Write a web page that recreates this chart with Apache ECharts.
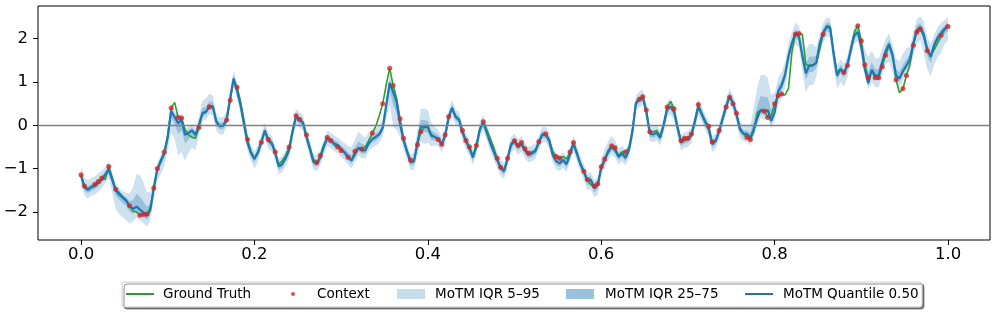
<!DOCTYPE html>
<html><head><meta charset="utf-8">
<script src="https://cdn.jsdelivr.net/npm/echarts@6/dist/echarts.min.js"></script>
<style>html,body{margin:0;padding:0;background:#fff}#c{width:997px;height:313px}</style>
</head><body><div id="c"></div>
<script>
// sampling times
const time = [
0,0.004,0.008,0.012,0.016,0.02,0.024,0.028,0.032,0.036,
0.04,0.044,0.048,0.052,0.056,0.06,0.064,0.068,0.072,0.076,
0.08,0.084,0.088,0.092,0.096,0.1,0.104,0.108,0.112,0.116,
0.12,0.124,0.128,0.132,0.136,0.14,0.144,0.148,0.152,0.156,
0.16,0.164,0.168,0.172,0.176,0.18,0.184,0.188,0.192,0.196,
0.2,0.204,0.208,0.212,0.216,0.22,0.224,0.228,0.232,0.236,
0.24,0.244,0.248,0.252,0.256,0.26,0.264,0.268,0.272,0.276,
0.28,0.284,0.288,0.292,0.296,0.3,0.304,0.308,0.312,0.316,
0.32,0.324,0.328,0.332,0.336,0.34,0.344,0.348,0.352,0.356,
0.36,0.364,0.368,0.372,0.376,0.38,0.384,0.388,0.392,0.396,
0.4,0.404,0.408,0.412,0.416,0.42,0.424,0.428,0.432,0.436,
0.44,0.444,0.448,0.452,0.456,0.46,0.464,0.468,0.472,0.476,
0.48,0.484,0.488,0.492,0.496,0.5,0.504,0.508,0.512,0.516,
0.52,0.524,0.528,0.532,0.536,0.54,0.544,0.548,0.552,0.556,
0.56,0.564,0.568,0.572,0.576,0.58,0.584,0.588,0.592,0.596,
0.6,0.604,0.608,0.612,0.616,0.62,0.624,0.628,0.632,0.636,
0.64,0.644,0.648,0.652,0.656,0.66,0.664,0.668,0.672,0.676,
0.68,0.684,0.688,0.692,0.696,0.7,0.704,0.708,0.712,0.716,
0.72,0.724,0.728,0.732,0.736,0.74,0.744,0.748,0.752,0.756,
0.76,0.764,0.768,0.772,0.776,0.78,0.784,0.788,0.792,0.796,
0.8,0.804,0.808,0.812,0.816,0.82,0.824,0.828,0.832,0.836,
0.84,0.844,0.848,0.852,0.856,0.86,0.864,0.868,0.872,0.876,
0.88,0.884,0.888,0.892,0.896,0.9,0.904,0.908,0.912,0.916,
0.92,0.924,0.928,0.932,0.936,0.94,0.944,0.948,0.952,0.956,
0.96,0.964,0.968,0.972,0.976,0.98,0.984,0.988,0.992,0.996,
1.0];

// MoTM quantile 0.50
const median = [
-1.17,-1.43,-1.49,-1.43,-1.40,-1.33,-1.25,-1.14,-1.02,-1.26,
-1.50,-1.60,-1.67,-1.74,-1.87,-1.93,-1.88,-1.95,-2.01,-2.09,
-1.95,-1.45,-1.02,-0.83,-0.66,-0.28,0.33,0.19,0.05,0.13,
-0.22,-0.18,-0.12,-0.22,0.00,0.28,0.31,0.43,0.44,0.08,
-0.02,-0.01,0.14,0.62,1.08,0.80,0.46,0.02,-0.40,-0.64,
-0.78,-0.63,-0.39,-0.12,-0.36,-0.42,-0.64,-0.95,-0.90,-0.76,
-0.58,-0.15,0.20,0.12,0.06,-0.27,-0.55,-0.85,-0.88,-0.75,
-0.50,-0.30,-0.35,-0.42,-0.46,-0.55,-0.63,-0.73,-0.81,-0.67,
-0.52,-0.58,-0.58,-0.41,-0.32,-0.27,-0.21,-0.06,0.45,0.98,
0.77,0.54,0.03,-0.35,-0.61,-0.85,-0.83,-0.41,-0.03,-0.03,
-0.05,-0.24,-0.27,-0.31,-0.44,-0.25,0.18,0.40,0.19,0.13,
-0.17,-0.37,-0.53,-0.74,-0.49,-0.10,0.06,-0.17,-0.41,-0.61,
-0.80,-0.99,-1.06,-0.78,-0.45,-0.37,-0.50,-0.43,-0.58,-0.68,
-0.65,-0.60,-0.40,-0.22,-0.22,-0.36,-0.68,-0.83,-0.88,-0.80,
-0.90,-0.67,-0.43,-0.66,-0.90,-1.08,-1.28,-1.26,-1.45,-1.38,
-0.99,-0.80,-0.62,-0.50,-0.57,-0.73,-0.65,-0.75,-0.57,-0.15,
0.51,0.60,0.64,0.32,-0.19,-0.21,-0.17,-0.29,0.00,0.37,
0.43,0.31,-0.06,-0.40,-0.34,-0.32,-0.23,0.08,0.43,0.25,
0.07,-0.09,-0.44,-0.36,-0.14,0.15,0.43,0.67,0.52,0.25,
-0.10,-0.19,-0.20,-0.29,-0.09,0.17,0.36,0.31,0.35,0.10,
0.30,0.78,0.92,1.16,1.60,1.90,2.12,2.05,1.60,1.20,
1.38,1.38,1.45,1.88,2.14,2.27,2.25,1.65,1.15,1.30,
1.20,1.40,1.75,2.08,2.15,1.80,1.30,0.97,1.28,1.15,
1.15,1.45,1.70,1.88,1.62,1.15,1.08,1.25,1.38,1.52,
1.90,2.20,2.27,2.10,1.75,1.58,1.85,2.02,2.12,2.23,
2.30];

// Ground truth
const truth = [
-1.14,-1.40,-1.47,-1.42,-1.36,-1.30,-1.22,-1.25,-0.95,-1.20,
-1.48,-1.55,-1.65,-1.72,-1.86,-1.98,-2.00,-2.08,-2.06,-2.05,
-1.90,-1.45,-1.00,-0.80,-0.62,-0.22,0.40,0.53,0.18,0.17,
-0.10,-0.22,-0.28,-0.30,-0.05,0.26,0.31,0.43,0.44,0.10,
-0.02,-0.02,0.12,0.58,1.05,0.88,0.55,0.12,-0.32,-0.60,
-0.76,-0.63,-0.39,-0.13,-0.32,-0.40,-0.62,-0.90,-0.82,-0.70,
-0.50,-0.12,0.22,0.14,0.06,-0.22,-0.50,-0.78,-0.86,-0.70,
-0.45,-0.28,-0.35,-0.45,-0.50,-0.58,-0.62,-0.74,-0.82,-0.60,
-0.52,-0.55,-0.50,-0.35,-0.18,-0.02,0.22,0.50,0.93,1.32,
0.92,0.62,0.15,-0.30,-0.58,-0.80,-0.85,-0.45,-0.15,-0.05,
-0.02,-0.22,-0.27,-0.33,-0.44,-0.22,0.20,0.40,0.22,0.14,
-0.12,-0.35,-0.50,-0.70,-0.47,-0.08,0.08,-0.10,-0.30,-0.52,
-0.76,-0.97,-1.02,-0.76,-0.42,-0.36,-0.46,-0.40,-0.54,-0.64,
-0.62,-0.58,-0.38,-0.20,-0.20,-0.32,-0.60,-0.72,-0.76,-0.72,
-0.78,-0.62,-0.40,-0.62,-0.88,-1.06,-1.25,-1.38,-1.40,-1.35,
-0.96,-0.78,-0.58,-0.48,-0.52,-0.70,-0.62,-0.62,-0.52,-0.10,
0.53,0.60,0.66,0.35,-0.15,-0.15,-0.12,-0.25,0.02,0.42,
0.55,0.38,-0.02,-0.36,-0.30,-0.30,-0.20,0.12,0.48,0.28,
0.10,-0.02,-0.38,-0.36,-0.12,0.14,0.42,0.65,0.50,0.28,
-0.05,-0.20,-0.28,-0.33,-0.15,0.30,0.33,0.33,0.18,0.22,
0.50,0.68,0.72,0.70,0.85,1.70,2.10,2.12,2.10,1.40,
1.38,1.40,1.42,1.75,2.10,2.30,2.28,1.70,1.20,1.30,
1.22,1.38,1.80,2.15,2.30,1.95,1.40,1.10,1.25,1.10,
1.10,1.35,1.62,1.85,1.65,1.05,0.75,0.85,1.15,1.40,
1.85,2.15,2.22,2.05,1.72,1.62,1.75,1.90,2.08,2.20,
2.28];

// indices of the observed context points
const contextIdx = [0,1,4,5,6,8,10,14,17,18,19,21,22,24,26,28,29,34,37,42,43,45,48,52,54,56,60,62,63,65,68,69,71,72,74,75,77,79,81,84,87,89,90,92,93,95,97,98,103,104,105,106,110,111,112,114,116,120,121,123,125,126,127,128,129,132,134,137,138,141,142,145,146,148,149,150,151,153,154,157,161,162,163,164,169,171,173,174,175,176,178,181,182,184,186,187,188,189,192,193,197,198,200,201,202,206,207,214,220,221,224,225,226,227,229,230,231,232,235,237,238,240,241,242,244,248,250];

// band extents relative to the median
const above95 = [
0.22,0.22,0.22,0.22,0.22,0.22,0.2,0.18,0.18,0.15,
0.15,0.15,0.15,0.18,0.3,0.5,0.75,0.8,0.7,0.55,
0.4,0.2,0.15,0.15,0.15,0.15,0.15,0.15,0.15,0.15,
0.15,0.15,0.15,0.15,0.2,0.3,0.3,0.3,0.25,0.2,
0.2,0.2,0.18,0.18,0.18,0.18,0.18,0.18,0.18,0.18,
0.18,0.18,0.18,0.18,0.18,0.18,0.18,0.18,0.18,0.18,
0.18,0.18,0.18,0.18,0.18,0.18,0.18,0.18,0.18,0.18,
0.18,0.18,0.18,0.18,0.18,0.2,0.22,0.25,0.3,0.35,
0.38,0.35,0.3,0.25,0.22,0.2,0.2,0.2,0.2,0.2,
0.15,0.15,0.18,0.18,0.18,0.18,0.2,0.3,0.4,0.42,
0.4,0.3,0.25,0.2,0.18,0.18,0.18,0.18,0.18,0.18,
0.18,0.18,0.18,0.18,0.18,0.18,0.18,0.18,0.18,0.18,
0.18,0.18,0.18,0.18,0.18,0.18,0.18,0.18,0.18,0.18,
0.18,0.18,0.18,0.18,0.18,0.18,0.18,0.18,0.18,0.18,
0.18,0.18,0.18,0.18,0.18,0.18,0.18,0.18,0.18,0.18,
0.22,0.25,0.25,0.25,0.22,0.18,0.18,0.18,0.18,0.18,
0.18,0.18,0.18,0.18,0.18,0.18,0.18,0.18,0.18,0.18,
0.18,0.18,0.18,0.18,0.18,0.18,0.18,0.18,0.18,0.18,
0.18,0.18,0.18,0.18,0.18,0.18,0.18,0.18,0.18,0.18,
0.18,0.18,0.2,0.3,0.5,0.7,0.8,0.85,0.75,0.6,
0.45,0.3,0.3,0.3,0.3,0.25,0.25,0.25,0.35,0.55,
0.5,0.5,0.35,0.22,0.22,0.22,0.22,0.22,0.22,0.22,
0.22,0.22,0.2,0.2,0.2,0.3,0.45,0.6,0.45,0.4,
0.4,0.3,0.3,0.25,0.25,0.4,0.4,0.4,0.4,0.3,
0.25,0.25,0.25,0.3,0.3,0.3,0.25,0.25,0.25,0.2,
0.2];
const below95 = [
0.2,0.2,0.2,0.2,0.2,0.2,0.2,0.2,0.2,0.3,
0.45,0.45,0.45,0.45,0.4,0.3,0.25,0.25,0.25,0.25,
0.25,0.25,0.25,0.3,0.3,0.3,0.5,0.5,0.75,0.75,
0.6,0.45,0.4,0.35,0.25,0.18,0.18,0.18,0.2,0.2,
0.2,0.2,0.18,0.18,0.18,0.18,0.18,0.18,0.18,0.18,
0.22,0.22,0.18,0.18,0.18,0.18,0.18,0.18,0.18,0.18,
0.18,0.18,0.18,0.18,0.18,0.18,0.18,0.18,0.18,0.18,
0.18,0.18,0.18,0.18,0.18,0.18,0.18,0.18,0.18,0.18,
0.18,0.18,0.18,0.18,0.2,0.2,0.2,0.2,0.3,0.5,
0.8,0.65,0.3,0.2,0.18,0.18,0.2,0.3,0.35,0.4,
0.35,0.25,0.2,0.18,0.18,0.18,0.18,0.18,0.18,0.18,
0.18,0.18,0.18,0.18,0.18,0.18,0.18,0.18,0.18,0.18,
0.18,0.18,0.18,0.18,0.18,0.18,0.18,0.18,0.18,0.18,
0.18,0.18,0.18,0.18,0.18,0.18,0.18,0.18,0.18,0.18,
0.18,0.18,0.18,0.18,0.18,0.18,0.22,0.22,0.22,0.22,
0.18,0.18,0.18,0.18,0.18,0.18,0.18,0.18,0.18,0.18,
0.18,0.18,0.18,0.18,0.18,0.18,0.18,0.18,0.18,0.18,
0.18,0.18,0.18,0.18,0.18,0.18,0.18,0.18,0.18,0.18,
0.18,0.18,0.18,0.18,0.18,0.18,0.18,0.18,0.18,0.18,
0.18,0.18,0.18,0.18,0.18,0.18,0.18,0.18,0.18,0.18,
0.2,0.3,0.3,0.3,0.3,0.25,0.25,0.25,0.35,0.45,
0.45,0.45,0.35,0.22,0.22,0.22,0.22,0.3,0.3,0.3,
0.3,0.3,0.2,0.2,0.2,0.2,0.15,0.15,0.27,0.27,
0.27,0.3,0.3,0.4,0.4,0.2,0.2,0.2,0.2,0.25,
0.3,0.3,0.3,0.45,0.45,0.45,0.45,0.45,0.45,0.35,
0.35];
const above50 = [
0.08,0.08,0.08,0.08,0.08,0.08,0.08,0.08,0.08,0.08,
0.07,0.07,0.07,0.08,0.12,0.2,0.3,0.3,0.25,0.2,
0.15,0.08,0.07,0.07,0.07,0.07,0.07,0.07,0.07,0.07,
0.07,0.07,0.07,0.07,0.08,0.12,0.12,0.12,0.1,0.08,
0.08,0.08,0.08,0.08,0.08,0.08,0.08,0.08,0.08,0.08,
0.08,0.08,0.08,0.08,0.08,0.08,0.08,0.08,0.08,0.08,
0.08,0.08,0.08,0.08,0.08,0.08,0.08,0.08,0.08,0.08,
0.08,0.08,0.08,0.08,0.08,0.08,0.1,0.1,0.12,0.15,
0.15,0.15,0.12,0.1,0.1,0.08,0.08,0.08,0.08,0.08,
0.07,0.07,0.08,0.08,0.08,0.08,0.08,0.12,0.15,0.15,
0.15,0.12,0.1,0.08,0.08,0.08,0.08,0.08,0.08,0.08,
0.08,0.08,0.08,0.08,0.08,0.08,0.08,0.08,0.08,0.08,
0.08,0.08,0.08,0.08,0.08,0.08,0.08,0.08,0.08,0.08,
0.08,0.08,0.08,0.08,0.08,0.08,0.08,0.08,0.08,0.08,
0.08,0.08,0.08,0.08,0.08,0.08,0.08,0.08,0.08,0.08,
0.1,0.1,0.1,0.1,0.1,0.08,0.08,0.08,0.08,0.08,
0.08,0.08,0.08,0.08,0.08,0.08,0.08,0.08,0.08,0.08,
0.08,0.08,0.08,0.08,0.08,0.08,0.08,0.08,0.08,0.08,
0.08,0.08,0.08,0.08,0.08,0.08,0.08,0.08,0.08,0.08,
0.08,0.08,0.08,0.12,0.2,0.28,0.32,0.35,0.3,0.25,
0.18,0.12,0.12,0.12,0.12,0.1,0.1,0.1,0.15,0.22,
0.2,0.2,0.15,0.1,0.1,0.1,0.1,0.1,0.1,0.1,
0.1,0.1,0.08,0.08,0.08,0.12,0.18,0.25,0.18,0.15,
0.15,0.12,0.12,0.1,0.1,0.15,0.15,0.15,0.15,0.12,
0.1,0.1,0.1,0.12,0.12,0.12,0.1,0.1,0.1,0.08,
0.08];
const below50 = [
0.08,0.08,0.08,0.08,0.08,0.08,0.08,0.08,0.08,0.08,
0.12,0.12,0.12,0.12,0.12,0.12,0.1,0.1,0.1,0.1,
0.1,0.08,0.08,0.1,0.1,0.1,0.15,0.15,0.25,0.25,
0.2,0.15,0.12,0.12,0.1,0.08,0.08,0.08,0.08,0.08,
0.08,0.08,0.08,0.08,0.08,0.08,0.08,0.08,0.08,0.08,
0.08,0.08,0.08,0.08,0.08,0.08,0.08,0.08,0.08,0.08,
0.08,0.08,0.08,0.08,0.08,0.08,0.08,0.08,0.08,0.08,
0.08,0.08,0.08,0.08,0.08,0.08,0.08,0.08,0.08,0.08,
0.08,0.08,0.08,0.08,0.08,0.08,0.08,0.08,0.12,0.18,
0.3,0.25,0.12,0.08,0.08,0.08,0.08,0.12,0.12,0.12,
0.12,0.1,0.08,0.08,0.08,0.08,0.08,0.08,0.08,0.08,
0.08,0.08,0.08,0.08,0.08,0.08,0.08,0.08,0.08,0.08,
0.08,0.08,0.08,0.08,0.08,0.08,0.08,0.08,0.08,0.08,
0.08,0.08,0.08,0.08,0.08,0.08,0.08,0.08,0.08,0.08,
0.08,0.08,0.08,0.08,0.08,0.08,0.1,0.1,0.1,0.1,
0.08,0.08,0.08,0.08,0.08,0.08,0.08,0.08,0.08,0.08,
0.08,0.08,0.08,0.08,0.08,0.08,0.08,0.08,0.08,0.08,
0.08,0.08,0.08,0.08,0.08,0.08,0.08,0.08,0.08,0.08,
0.08,0.08,0.08,0.08,0.08,0.08,0.08,0.08,0.08,0.08,
0.08,0.08,0.08,0.08,0.08,0.08,0.08,0.08,0.08,0.08,
0.08,0.12,0.12,0.12,0.12,0.1,0.1,0.1,0.12,0.15,
0.15,0.15,0.12,0.1,0.1,0.1,0.1,0.1,0.1,0.1,
0.1,0.1,0.08,0.08,0.08,0.08,0.07,0.07,0.1,0.1,
0.1,0.1,0.1,0.15,0.15,0.08,0.08,0.08,0.08,0.1,
0.1,0.1,0.1,0.15,0.15,0.15,0.15,0.15,0.15,0.12,
0.12];

const xTicks = [0, 0.2, 0.4, 0.6, 0.8, 1.0];
const yTicks = [-2, -1, 0, 1, 2];

const q05 = median.map((m, i) => m - below95[i]);
const q95 = median.map((m, i) => m + above95[i]);
const q25 = median.map((m, i) => m - below50[i]);
const q75 = median.map((m, i) => m + above50[i]);

const BLUE = '#1f77b4', GREEN = '#2ca02c', RED = '#d62728';
const FONT = 'DejaVu Sans';

function band(name, lower, upper, color, z) {
  return {
    type: 'custom', name, z, silent: true,
    itemStyle: { color },
    data: [[time[0], median[0]]],
    renderItem: (params, api) => {
      const pts = [];
      for (let i = 0; i < time.length; i++) pts.push(api.coord([time[i], upper[i]]));
      for (let i = time.length - 1; i >= 0; i--) pts.push(api.coord([time[i], lower[i]]));
      return { type: 'polygon', shape: { points: pts }, style: { fill: color } };
    }
  };
}

function legendItem(left, name, icon, w, h, color, pad) {
  return {
    left, top: 287, padding: 0, itemWidth: w, itemHeight: h, icon,
    selectedMode: false,
    data: [{ name, itemStyle: { color, borderWidth: 0 } }],
    textStyle: { fontFamily: FONT, fontSize: 13.5, color: '#000', padding: [0, 0, 0, pad] }
  };
}

const chart = echarts.init(document.getElementById('c'), null, { renderer: 'canvas' });
chart.setOption({
  animation: false,
  backgroundColor: '#fff',
  grid: { left: 38, right: 7, top: 6, bottom: 73, show: true, borderColor: '#000', borderWidth: 1, backgroundColor: 'transparent', outerBoundsMode: 'none' },
  xAxis: {
    type: 'value', min: -0.0496, max: 1.0484, position: 'bottom',
    splitLine: { show: false }, axisLine: { show: false, onZero: false },
    axisTick: { show: true, length: 5, lineStyle: { color: '#000', width: 1 }, customValues: xTicks },
    axisLabel: { customValues: xTicks, formatter: v => v.toFixed(1), fontFamily: FONT, fontSize: 16.5, color: '#000', margin: 6 }
  },
  yAxis: {
    type: 'value', min: -2.65, max: 2.755, position: 'left',
    splitLine: { show: false }, axisLine: { show: false, onZero: false },
    axisTick: { show: true, length: 5, lineStyle: { color: '#000', width: 1 }, customValues: yTicks },
    axisLabel: { customValues: yTicks, formatter: v => (v < 0 ? '\u2212' : '') + Math.abs(v), fontFamily: FONT, fontSize: 16.5, color: '#000', margin: 10 }
  },
  legend: [
    legendItem(126, 'Ground Truth', 'rect', 28, 2, GREEN, 4),
    legendItem(291, 'Context', 'circle', 4, 4, RED, 17),
    legendItem(397, 'MoTM IQR 5\u201395', 'rect', 28, 10, 'rgba(31,119,180,0.25)', 5),
    legendItem(566, 'MoTM IQR 25\u201375', 'rect', 28, 10, 'rgba(31,119,180,0.45)', 6),
    legendItem(745, 'MoTM Quantile 0.50', 'rect', 28, 2, BLUE, 5)
  ],
  graphic: [{
    type: 'rect', z: -1, silent: true,
    shape: { x: 122, y: 282, width: 800, height: 25, r: 3 },
    style: { fill: '#fff', stroke: '#cccccc', lineWidth: 1, shadowColor: 'rgba(0,0,0,0.45)', shadowOffsetX: 2, shadowOffsetY: 2, shadowBlur: 0 }
  }],
  series: [
    band('MoTM IQR 5\u201395', q05, q95, 'rgba(31,119,180,0.22)', 1),
    band('MoTM IQR 25\u201375', q25, q75, 'rgba(31,119,180,0.3)', 1),
    {
      type: 'line', name: 'zero', data: [], z: 2, silent: true,
      markLine: { silent: true, symbol: 'none', label: { show: false },
        lineStyle: { color: '#808080', width: 1.3, type: 'solid' }, data: [{ yAxis: 0 }] }
    },
    {
      type: 'line', name: 'Ground Truth', z: 3, symbol: 'none', silent: true,
      lineStyle: { color: GREEN, width: 1.6 }, itemStyle: { color: GREEN },
      data: time.map((t, i) => [t, truth[i]])
    },
    {
      type: 'line', name: 'MoTM Quantile 0.50', z: 4, symbol: 'none', silent: true,
      lineStyle: { color: BLUE, width: 2.2 }, itemStyle: { color: BLUE },
      data: time.map((t, i) => [t, median[i]])
    },
    {
      type: 'scatter', name: 'Context', z: 5, symbolSize: 5, silent: true,
      itemStyle: { color: RED },
      data: contextIdx.map(i => [time[i], truth[i]])
    }
  ]
});
</script>
</body></html>
